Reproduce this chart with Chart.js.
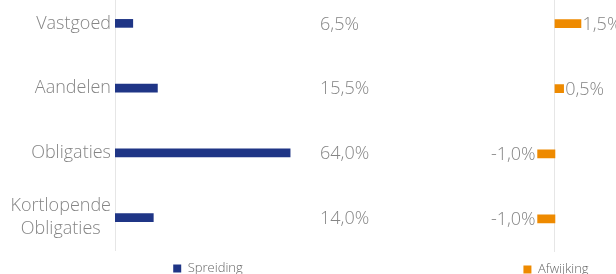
<!DOCTYPE html>
<html>
<head>
<meta charset="utf-8">
<script src="https://cdn.jsdelivr.net/npm/chart.js@4"></script>
<style>
  html, body { margin: 0; padding: 0; background: #fff; overflow: hidden; }
  body { width: 616px; height: 274px; position: relative; }
  #wrapL { position: absolute; left: 0; top: -9px; width: 416px; height: 294px; }
  #wrapR { position: absolute; left: 436px; top: -9px; width: 180px; height: 295px; }
</style>
</head>
<body>
<div id="wrapL"><canvas id="left"></canvas></div>
<div id="wrapR"><canvas id="right"></canvas></div>
<script>
const categories = [["Vastgoed"], ["Aandelen"], ["Obligaties"], ["Kortlopende", "Obligaties"]];
const spreiding = [6.5, 15.5, 64.0, 14.0];
const afwijking = [1.5, 0.5, -1.0, -1.0];
const seriesNames = ["Spreiding", "Afwijking"];

const BLUE = '#1f3586';
const ORANGE = '#ee8a00';
const GREY = '#858585';
const AXIS = '#e6e6e6';
const FONT = "'Open Sans', 'Lato', sans-serif";

const fmt = v => v.toFixed(1).replace('.', ',') + '%';

const leftLabels = {
  id: 'leftLabels',
  afterDatasetsDraw(chart) {
    const ctx = chart.ctx;
    const y = chart.scales.y;
    ctx.save();
    ctx.font = '300 18px ' + FONT;
    ctx.fillStyle = GREY;
    ctx.textBaseline = 'middle';
    const lh = 23;
    categories.forEach((lines, i) => {
      const cy = y.getPixelForValue(i);
      const widest = Math.max(...lines.map(l => ctx.measureText(l).width));
      const cx = chart.chartArea.left - 4 - widest / 2;
      ctx.textAlign = 'center';
      lines.forEach((l, j) => {
        ctx.fillText(l, cx, cy + (j - (lines.length - 1) / 2) * lh);
      });
    });
    const meta = chart.getDatasetMeta(0);
    ctx.textAlign = 'left';
    meta.data.forEach((bar, i) => {
      ctx.fillText(fmt(spreiding[i]), 320, bar.y + 1);
    });
    ctx.restore();
  }
};

const rightLabels = {
  id: 'rightLabels',
  afterDatasetsDraw(chart) {
    const ctx = chart.ctx;
    ctx.save();
    ctx.font = '300 18px ' + FONT;
    ctx.fillStyle = GREY;
    ctx.textBaseline = 'middle';
    const meta = chart.getDatasetMeta(0);
    meta.data.forEach((bar, i) => {
      const v = afwijking[i];
      if (v >= 0) { ctx.textAlign = 'left'; ctx.fillText(fmt(v), bar.x + 1.5, bar.y + 1); }
      else { ctx.textAlign = 'right'; ctx.fillText(fmt(v), bar.x - 2, bar.y + 1); }
    });
    ctx.restore();
  }
};

const legendOpts = (pad) => ({
  position: 'bottom',
  labels: {
    boxWidth: 8, boxHeight: 8, padding: pad,
    color: '#666', font: { family: FONT, size: 13, weight: '300' }
  }
});

new Chart(document.getElementById('left'), {
  type: 'bar',
  data: {
    labels: categories,
    datasets: [{ label: seriesNames[0], data: spreiding, backgroundColor: BLUE, borderWidth: 0, barThickness: 8 }]
  },
  options: {
    indexAxis: 'y', responsive: true, maintainAspectRatio: false, animation: false,
    layout: { padding: 0 },
    plugins: { legend: legendOpts(12), tooltip: { enabled: false } },
    scales: {
      x: { display: false, min: 0, max: 110 },
      y: {
        display: true,
        ticks: { display: false },
        grid: { display: false },
        border: { display: true, color: AXIS, width: 1 },
        afterFit(s) { s.width = 115; }
      }
    }
  },
  plugins: [leftLabels]
});

new Chart(document.getElementById('right'), {
  type: 'bar',
  data: {
    labels: categories,
    datasets: [{ label: seriesNames[1], data: afwijking, backgroundColor: ORANGE, borderWidth: 0, barThickness: 8 }]
  },
  options: {
    indexAxis: 'y', responsive: true, maintainAspectRatio: false, animation: false,
    layout: { padding: { left: 60 } },
    plugins: { legend: legendOpts(11.5), tooltip: { enabled: false } },
    scales: {
      x: { display: false, min: -3.4, max: 3.52 },
      y: {
        display: true,
        position: { x: 0 },
        ticks: { display: false },
        grid: { display: false },
        border: { display: true, color: AXIS, width: 1 }
      }
    }
  },
  plugins: [rightLabels]
});
</script>
</body>
</html>
